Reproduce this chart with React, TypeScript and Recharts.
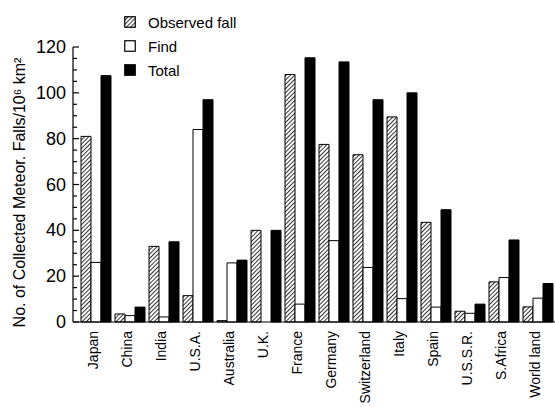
import React from 'react';
import { BarChart, Bar, XAxis, YAxis, Legend } from 'recharts';

const countries = ['Japan', 'China', 'India', 'U.S.A.', 'Australia', 'U.K.', 'France', 'Germany', 'Switzerland', 'Italy', 'Spain', 'U.S.S.R.', 'S.Africa', 'World land'];
const observedFall = [81, 3.5, 33, 11.5, 0.6, 40, 108, 77.5, 73, 89.5, 43.5, 4.7, 17.5, 6.6];
const finds = [26, 2.8, 2.2, 84, 25.8, 0, 7.8, 35.5, 23.8, 10.2, 6.5, 3.8, 19.4, 10.4];
const totals = [107.5, 6.5, 35, 97, 27, 40, 115.3, 113.5, 97, 100, 49, 7.8, 35.8, 16.8];
const yTicks = [0, 5, 10, 15, 20, 25, 30, 35, 40, 45, 50, 55, 60, 65, 70, 75, 80, 85, 90, 95, 100, 105, 110, 115, 120];

const data = countries.map((country, i) => ({
  country,
  observed: observedFall[i],
  find: finds[i],
  total: totals[i],
}));

const font = '"Liberation Sans", Arial, Helvetica, sans-serif';

const YTick = (props: any) => {
  const { x, y, payload } = props;
  const major = payload.value % 20 === 0;
  return (
    <g>
      <line x1={x} x2={x + (major ? 6 : 4)} y1={y} y2={y} stroke="#000" strokeWidth={1.2} />
      {major && (
        <text x={x - 7} y={y} textAnchor="end" dominantBaseline="central" fontSize={18} fill="#000" fontFamily={font}>
          {payload.value}
        </text>
      )}
    </g>
  );
};

const XTick = (props: any) => {
  const { x, y, payload } = props;
  return (
    <text
      x={0}
      y={0}
      transform={`translate(${x - 3},${y + 9}) rotate(-90)`}
      textAnchor="end"
      dominantBaseline="central"
      fontSize={14}
      fill="#000"
      fontFamily={font}
    >
      {payload.value}
    </text>
  );
};

const legendItems = [
  { label: 'Observed fall', fill: 'url(#hatch)' },
  { label: 'Find', fill: '#fff' },
  { label: 'Total', fill: '#000' },
];

const LegendBox = () => (
  <div style={{ fontFamily: font, fontSize: 15, color: '#000' }}>
    {legendItems.map((it) => (
      <div key={it.label} style={{ display: 'flex', alignItems: 'center', height: 24 }}>
        <svg width={12} height={12} style={{ marginRight: 12 }}>
          <rect x={0.75} y={0.75} width={10.5} height={10.5} fill={it.fill} stroke="#000" strokeWidth={1.2} />
        </svg>
        <span>{it.label}</span>
      </div>
    ))}
  </div>
);

const YLabel = (props: any) => {
  const { viewBox } = props;
  const cx = viewBox.x + 19;
  const cy = viewBox.y + viewBox.height / 2 + 8;
  return (
    <text
      x={0}
      y={0}
      transform={`translate(${cx},${cy}) rotate(-90)`}
      textAnchor="middle"
      dominantBaseline="central"
      fontSize={16}
      fill="#000"
      fontFamily={font}
    >
      No. of Collected Meteor. Falls/10⁶ km²
    </text>
  );
};

export default function App() {
  return (
    <div style={{ position: 'absolute', left: 0, top: 0, background: '#fff' }}>
      <BarChart
        width={555}
        height={407}
        data={data}
        margin={{ top: 47, right: 0, bottom: 0, left: 0 }}
        barSize={10}
        barGap={0}
      >
        <defs>
          <pattern id="hatch" patternUnits="userSpaceOnUse" width={3} height={3} patternTransform="rotate(45)">
            <rect x={0} y={0} width={3} height={3} fill="#fff" />
            <line x1={0} y1={0} x2={0} y2={3} stroke="#000" strokeWidth={1.6} />
          </pattern>
        </defs>
        <XAxis
          dataKey="country"
          height={85}
          interval={0}
          tickLine={false}
          tickSize={0}
          tickMargin={0}
          tick={<XTick />}
          axisLine={{ stroke: '#000', strokeWidth: 1.2 }}
          padding={{ left: 6, right: 0 }}
        />
        <YAxis
          width={73}
          domain={[0, 120]}
          ticks={yTicks}
          interval={0}
          tickLine={false}
          tickSize={0}
          tickMargin={0}
          tick={<YTick />}
          axisLine={{ stroke: '#000', strokeWidth: 1.2 }}
          label={{ content: <YLabel /> }}
        />
        <Legend
          layout="horizontal"
          verticalAlign="middle"
          align="center"
          content={<LegendBox />}
          wrapperStyle={{ left: 124, top: 10, width: 160 }}
        />
        <Bar dataKey="observed" fill="url(#hatch)" stroke="#000" strokeWidth={1} isAnimationActive={false} />
        <Bar dataKey="find" fill="#fff" stroke="#000" strokeWidth={1} isAnimationActive={false} />
        <Bar dataKey="total" fill="#000" stroke="#000" strokeWidth={1} isAnimationActive={false} />
      </BarChart>
    </div>
  );
}
